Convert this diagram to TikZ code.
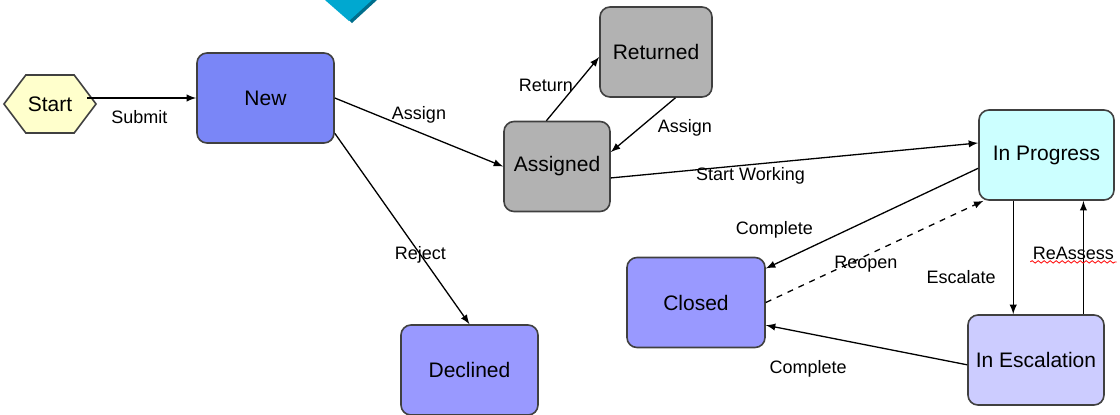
\documentclass[tikz,border=0pt]{standalone}
\usepackage{fontspec}
\setmainfont{Liberation Sans}
\usetikzlibrary{arrows,decorations.pathmorphing}
\usetikzlibrary{shapes.symbols}

\definecolor{startfill}{RGB}{255,255,204}
\definecolor{newblue}{RGB}{122,134,247}
\definecolor{closedblue}{RGB}{153,153,255}
\definecolor{stategray}{RGB}{178,178,178}
\definecolor{progresscyan}{RGB}{204,255,255}
\definecolor{escalationblue}{RGB}{204,204,255}
\definecolor{borderdark}{RGB}{64,64,64}
\definecolor{markcyan}{RGB}{0,168,208}
\definecolor{markshade}{RGB}{0,110,140}

\begin{document}
\begin{tikzpicture}[x=0.5pt, y=-0.5pt]

\tikzstyle{statebox}=[rectangle, rounded corners=5pt, draw=borderdark, line width=0.8pt, minimum height=45pt, inner sep=1pt, font=\fontsize{10.5}{12}\selectfont]
\tikzstyle{arrow}=[-latex, line width=0.65pt]
\tikzstyle{lbl}=[inner sep=1pt, font=\fontsize{9}{10}\selectfont]

\useasboundingbox (0,0) rectangle (1120,414);

% corner of the marker at the top
\fill [markshade] (329,0) -- (352,23) -- (377,0) -- cycle;
\fill [markcyan] (325,0) -- (349,21) -- (372,0) -- cycle;

\node (start) [signal, signal to=west and east, signal pointer angle=106, draw=borderdark, line width=0.8pt, fill=startfill, minimum width=46pt, minimum height=29pt, inner sep=1pt, font=\fontsize{10.5}{12}\selectfont] at (50,104) {Start};

\node (new) [statebox, fill=newblue, minimum width=68.5pt] at (265.5,98) {New};
\node (returned) [statebox, fill=stategray, minimum width=56pt] at (656,52) {Returned};
\node (assigned) [statebox, fill=stategray, minimum width=53pt] at (557,166.5) {Assigned};
\node (inprogress) [statebox, fill=progresscyan, minimum width=67.5pt] at (1046.5,155) {In Progress};
\node (closed) [statebox, fill=closedblue, minimum width=69pt] at (696,302.5) {Closed};
\node (declined) [statebox, fill=closedblue, minimum width=68.5pt] at (469.5,370) {Declined};
\node (inescalation) [statebox, fill=escalationblue, minimum width=68pt] at (1036,360) {In Escalation};

\draw [arrow] ([xshift=-5pt]start.east |- new.west) -- node [lbl, below=5pt, pos=0.48] {Submit} (new.west);
\draw [arrow] (new.east) -- node [lbl, above=3pt] {Assign} (assigned.west);
\draw [arrow] (new.-27) -- node [lbl, pos=0.635] {Reject} (declined.north);
\draw [arrow] (assigned.103) -- node [lbl, left, pos=0.55] {Return} (returned.185);
\draw [arrow] (returned.-67) -- node [lbl, right=8pt, pos=0.56] {Assign} (assigned.15);
\draw [arrow] (assigned.-12) -- node [lbl, below, pos=0.38] {Start Working} (inprogress.170);
\draw [arrow] (inprogress.-169) -- node [lbl, above=12pt, pos=0.96] {Complete} (closed.26);
\draw [arrow, dashed] (closed.east) -- node [lbl, below=-1pt, pos=0.46] {Reopen} (inprogress.216);
\draw [arrow] (inprogress.-126) -- node [lbl, left=7.5pt, pos=0.67] {Escalate} (inprogress.-126 |- inescalation.north);
\draw [arrow] (inescalation.44) -- node (reassess) [lbl, pos=0.54, xshift=-5pt] {ReAssess} (inescalation.44 |- inprogress.south);
\draw [arrow] (inescalation.184) -- node [lbl, below=12pt, pos=0.79] {Complete} (closed.-18);

\draw [red, decorate, decoration={snake, amplitude=0.6pt, segment length=3pt}] (reassess.south west) -- (reassess.south east);

\end{tikzpicture}
\end{document}
